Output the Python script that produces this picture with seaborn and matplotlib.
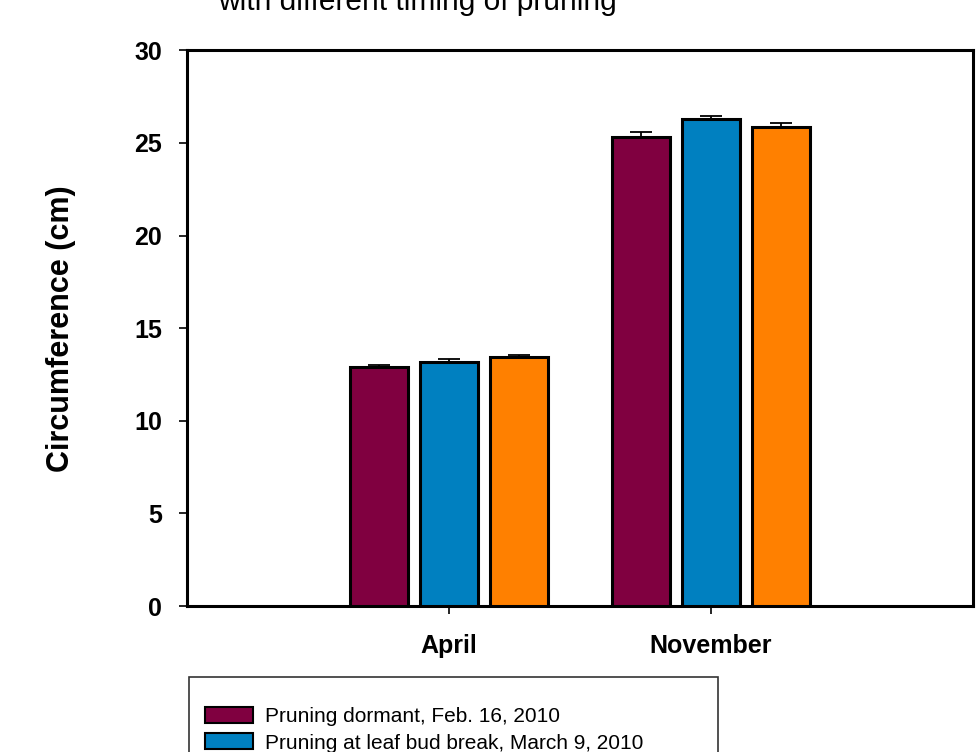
import matplotlib
matplotlib.use("Agg")
import matplotlib.pyplot as plt
import seaborn as sns
import pandas as pd
import numpy as np

# ---- data ----
months = ["April", "November"]
treatments = [
    "Pruning dormant, Feb. 16, 2010",
    "Pruning at leaf bud break, March 9, 2010",
    "Pruning after full leaf expansion, April 20, 2010 ",
]
dormant_vals = [12.9, 25.3]
budbreak_vals = [13.2, 26.3]
leaf_vals = [13.45, 25.85]
dormant_err = [0.1, 0.3]
budbreak_err = [0.12, 0.15]
leaf_err = [0.12, 0.25]
colors = ["#800040", "#0080c0", "#ff8000"]

sns.set_theme(style="white")
plt.rcParams["font.family"] = ["Liberation Sans", "DejaVu Sans"]
plt.rcParams["text.color"] = "black"
plt.rcParams["axes.labelcolor"] = "black"
plt.rcParams["xtick.color"] = "black"
plt.rcParams["ytick.color"] = "black"

rows = []
for t, vals, errs in zip(treatments, [dormant_vals, budbreak_vals, leaf_vals],
                         [dormant_err, budbreak_err, leaf_err]):
    for m, v, e in zip(months, vals, errs):
        rows.append({"Month": m, "Treatment": t, "Value": v, "Err": e})
df = pd.DataFrame(rows)

fig = plt.figure(figsize=(9.77, 7.52), dpi=100)
ax = fig.add_axes([0.1914, 0.1941, 0.8045, 0.7389])

sns.barplot(data=df, x="Month", y="Value", hue="Treatment", order=months,
            hue_order=treatments, palette=colors, errorbar=None,
            width=0.8, gap=0.17, edgecolor="black", linewidth=2.2,
            saturation=1, ax=ax, zorder=3)

# error bars (upper only) placed at the bar patches
for t, cont in zip(treatments, ax.containers):
    sub = df[df["Treatment"] == t].set_index("Month").loc[months]
    xs = [p.get_x() + p.get_width() / 2 for p in cont.patches]
    ax.errorbar(xs, sub["Value"].values,
                yerr=[np.zeros(len(xs)), sub["Err"].values],
                fmt="none", ecolor="black", elinewidth=1.3, capsize=8,
                capthick=1.3, zorder=2)

ax.set_xlim(-1, 2)
ax.set_ylim(0, 30)
ax.set_yticks([0, 5, 10, 15, 20, 25, 30])
ax.tick_params(axis="both", direction="out", length=6, width=1.2,
               labelsize=18, color="black", labelcolor="black")
ax.tick_params(axis="y", left=True, pad=12)
ax.tick_params(axis="x", bottom=True, pad=14)
for lab in ax.get_xticklabels() + ax.get_yticklabels():
    lab.set_fontweight("bold")
ax.set_xlabel("")
ax.set_ylabel("Circumference (cm)", fontsize=22, fontweight="bold",
              labelpad=42, color="black")
for s in ax.spines.values():
    s.set_visible(True)
    s.set_linewidth(2.2)
    s.set_color("black")

fig.text(0.427, 0.998, "with different timing of pruning", ha="center",
         va="center", fontsize=21.5, color="black")

ax.get_legend().remove()
handles = [plt.Rectangle((0, 0), 1, 1, facecolor=c, edgecolor="black", linewidth=1.5)
           for c in colors]
leg = fig.legend(handles, treatments, loc="upper left",
                 bbox_to_anchor=(189 / 977, 1 - 677 / 752),
                 fontsize=15, frameon=True, fancybox=False, edgecolor="black",
                 borderpad=0.75, handlelength=2.3, handleheight=0.8,
                 handletextpad=0.6, labelspacing=0.35, borderaxespad=0,
                 title=" ", title_fontsize=5)
leg.get_frame().set_linewidth(1.2)
for txt in leg.get_texts():
    txt.set_color("black")

fig.savefig("out.png", dpi=100)
